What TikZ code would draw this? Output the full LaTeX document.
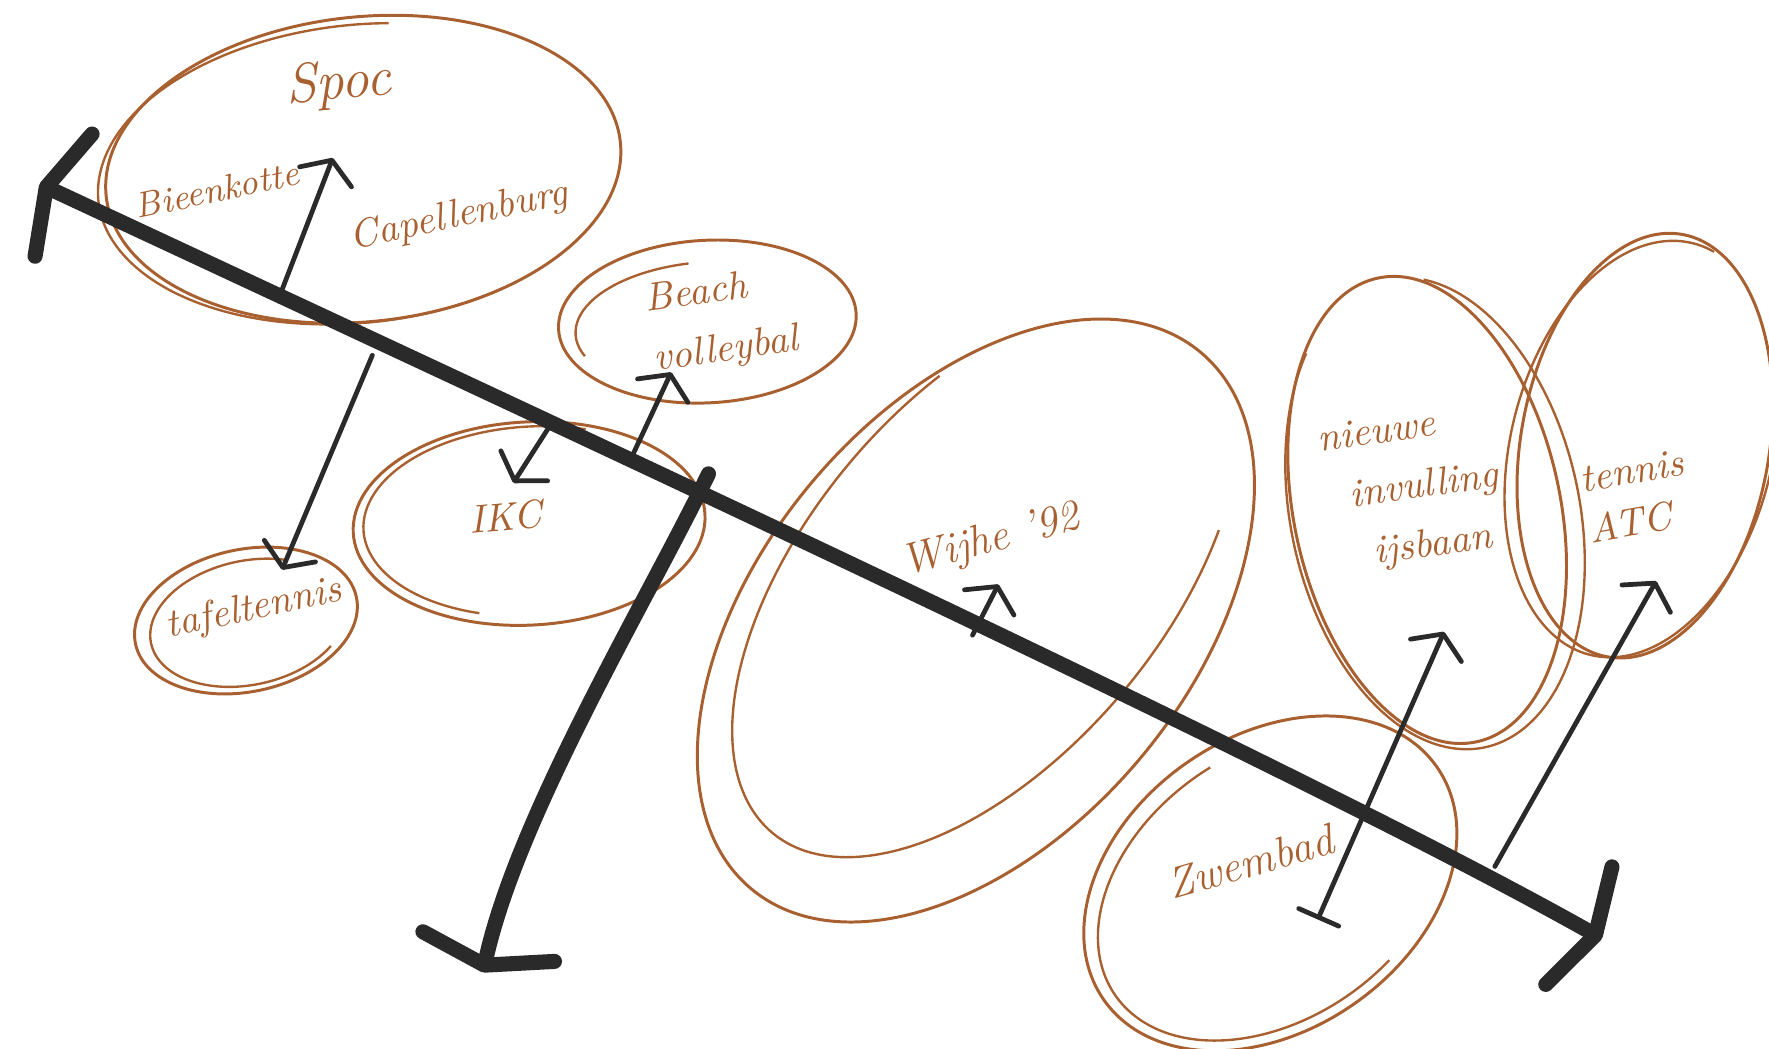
\documentclass[tikz,border=0pt]{standalone}
\usepackage{xcolor}
\usepackage{tikz}
\usetikzlibrary{shapes.geometric, arrows.meta}
\definecolor{sketchbrown}{RGB}{168,96,48}
\definecolor{ink}{RGB}{42,42,42}
\tikzset{
    blob/.style={
        ellipse, draw=sketchbrown, line width=0.75pt, inner sep=0pt
    },
    sketchline/.style={draw=sketchbrown, line width=0.6pt},
    word/.style={
        text=sketchbrown, align=left, inner sep=1pt,
        font=\itshape\fontsize{10}{13}\selectfont
    },
    axis/.style={draw=ink, line width=3.8pt, line cap=round},
    axistip/.tip={Straight Barb[length=4.8pt, width=34pt, round]},
    pointer/.style={
        draw=ink, line width=1.2pt, line cap=round,
        -{Straight Barb[length=4.5pt, width=14pt, round]}
    }
}

\begin{document}
\begin{tikzpicture}[x=0.01cm, y=-0.01cm]
    \useasboundingbox (0,0) rectangle (1568,929);

    % club ellipses
    \node (spoc) [blob, minimum width=4.58cm, minimum height=2.70cm, rotate=6] at (322,150) {};
    \node (beach) [blob, minimum width=2.64cm, minimum height=1.44cm, rotate=3] at (627,285) {};
    \node (ikc) [blob, minimum width=3.12cm, minimum height=1.80cm, rotate=3] at (469,464) {};
    \node (tafel) [blob, minimum width=2.00cm, minimum height=1.26cm, rotate=12] at (218,550) {};
    \node (wijhe) [blob, minimum width=6.20cm, minimum height=3.80cm, rotate=50] at (865,550) {};
    \node (ijsbaan) [blob, minimum width=2.36cm, minimum height=4.20cm, rotate=12] at (1265,452) {};
    \node (tennis) [blob, minimum width=2.20cm, minimum height=3.80cm, rotate=-10] at (1458,395) {};
    \node (zwembad) [blob, minimum width=3.60cm, minimum height=2.60cm, rotate=35] at (1126,783) {};

    % second pencil strokes
    \draw[sketchline, shift={(318,154)}, rotate=6] (60:232 and 132) arc[start angle=60, end angle=280, x radius=232, y radius=132];
    \draw[sketchline, shift={(630,290)}, rotate=3] (160:120 and 58) arc[start angle=160, end angle=262, x radius=120, y radius=58];
    \draw[sketchline, shift={(472,462)}, rotate=3] (110:150 and 84) arc[start angle=110, end angle=290, x radius=150, y radius=84];
    \draw[sketchline, shift={(220,552)}, rotate=12] (40:88 and 55) arc[start angle=40, end angle=300, x radius=88, y radius=55];
    \draw[sketchline, shift={(874,512)}, rotate=50] (56:295 and 158) arc[start angle=56, end angle=292, x radius=295, y radius=158];
    \draw[sketchline, shift={(1272,455)}, rotate=12] (285:128 and 212) arc[start angle=285, end angle=590, x radius=128, y radius=212];
    \draw[sketchline, shift={(1455,398)}, rotate=-14] (-10:116 and 188) arc[start angle=-10, end angle=280, x radius=116, y radius=188];
    \draw[sketchline, shift={(1128,785)}, rotate=35] (74:170 and 118) arc[start angle=74, end angle=275, x radius=170, y radius=118];

    % handwritten names
    \node (spoclbl) [word, font=\itshape\fontsize{14}{16}\selectfont, rotate=5] at (300,75) {Spoc};
    \node (bieenlbl) [word, font=\itshape\fontsize{9}{11}\selectfont, rotate=12] at (192,168) {Bieenkotte};
    \node (capellbl) [word, rotate=12] at (407,192) {Capellenburg};
    \node (beachlbl) [word, font=\itshape\fontsize{10}{15}\selectfont, rotate=8] at (640,285) {Beach\\volleybal};
    \node (ikclbl) [word, rotate=5] at (448,458) {IKC};
    \node (tafellbl) [word, rotate=12] at (225,540) {tafeltennis};
    \node (wijhelbl) [word, font=\itshape\fontsize{11}{13}\selectfont, rotate=15] at (878,480) {Wijhe '92};
    \node (ijslbl) [word, font=\itshape\fontsize{10}{15}\selectfont, rotate=8] at (1252,434) {nieuwe\\\hspace{6pt}invulling\\\hspace{10pt}ijsbaan};
    \node (tennislbl) [word, rotate=10] at (1450,440) {tennis\\ATC};
    \node (zwemlbl) [word, font=\itshape\fontsize{11}{13}\selectfont, rotate=16] at (1108,764) {Zwembad};

    % axes
    \coordinate (west) at (35,163);
    \coordinate (east) at (1420,832);
    \coordinate (top) at (628,420);
    \coordinate (south) at (428,862);
    \draw[axis, axistip-axistip] (west) .. controls (500,380) and (1150,680) .. (east);
    \draw[axis, -axistip] (top) .. controls (575,530) and (460,720) .. (south);

    % pointers from the axis
    \coordinate (p1) at (248,262);  \coordinate (spocin) at (295,140);
    \coordinate (p2) at (330,315);  \coordinate (tafelin) at (250,505);
    \coordinate (p3) at (487,378);  \coordinate (ikcin) at (455,428);
    \coordinate (p4) at (560,405);  \coordinate (beachin) at (595,330);
    \coordinate (p5) at (862,563);  \coordinate (wijhein) at (885,518);
    \coordinate (p6) at (1325,768); \coordinate (tennisin) at (1468,515);
    \coordinate (zwemin) at (1168,815); \coordinate (ijsin) at (1280,560);
    \draw[pointer] (p1) -- (spocin);
    \draw[pointer] (p2) -- (tafelin);
    \draw[pointer] (p3) -- (ikcin);
    \draw[pointer] (p4) -- (beachin);
    \draw[pointer] (p5) -- (wijhein);
    \draw[pointer] (p6) -- (tennisin);
    \draw[pointer, {Bar[width=11pt, round]}-{Straight Barb[length=4.5pt, width=14pt, round]}] (zwemin) -- (ijsin);
\end{tikzpicture}
\end{document}
